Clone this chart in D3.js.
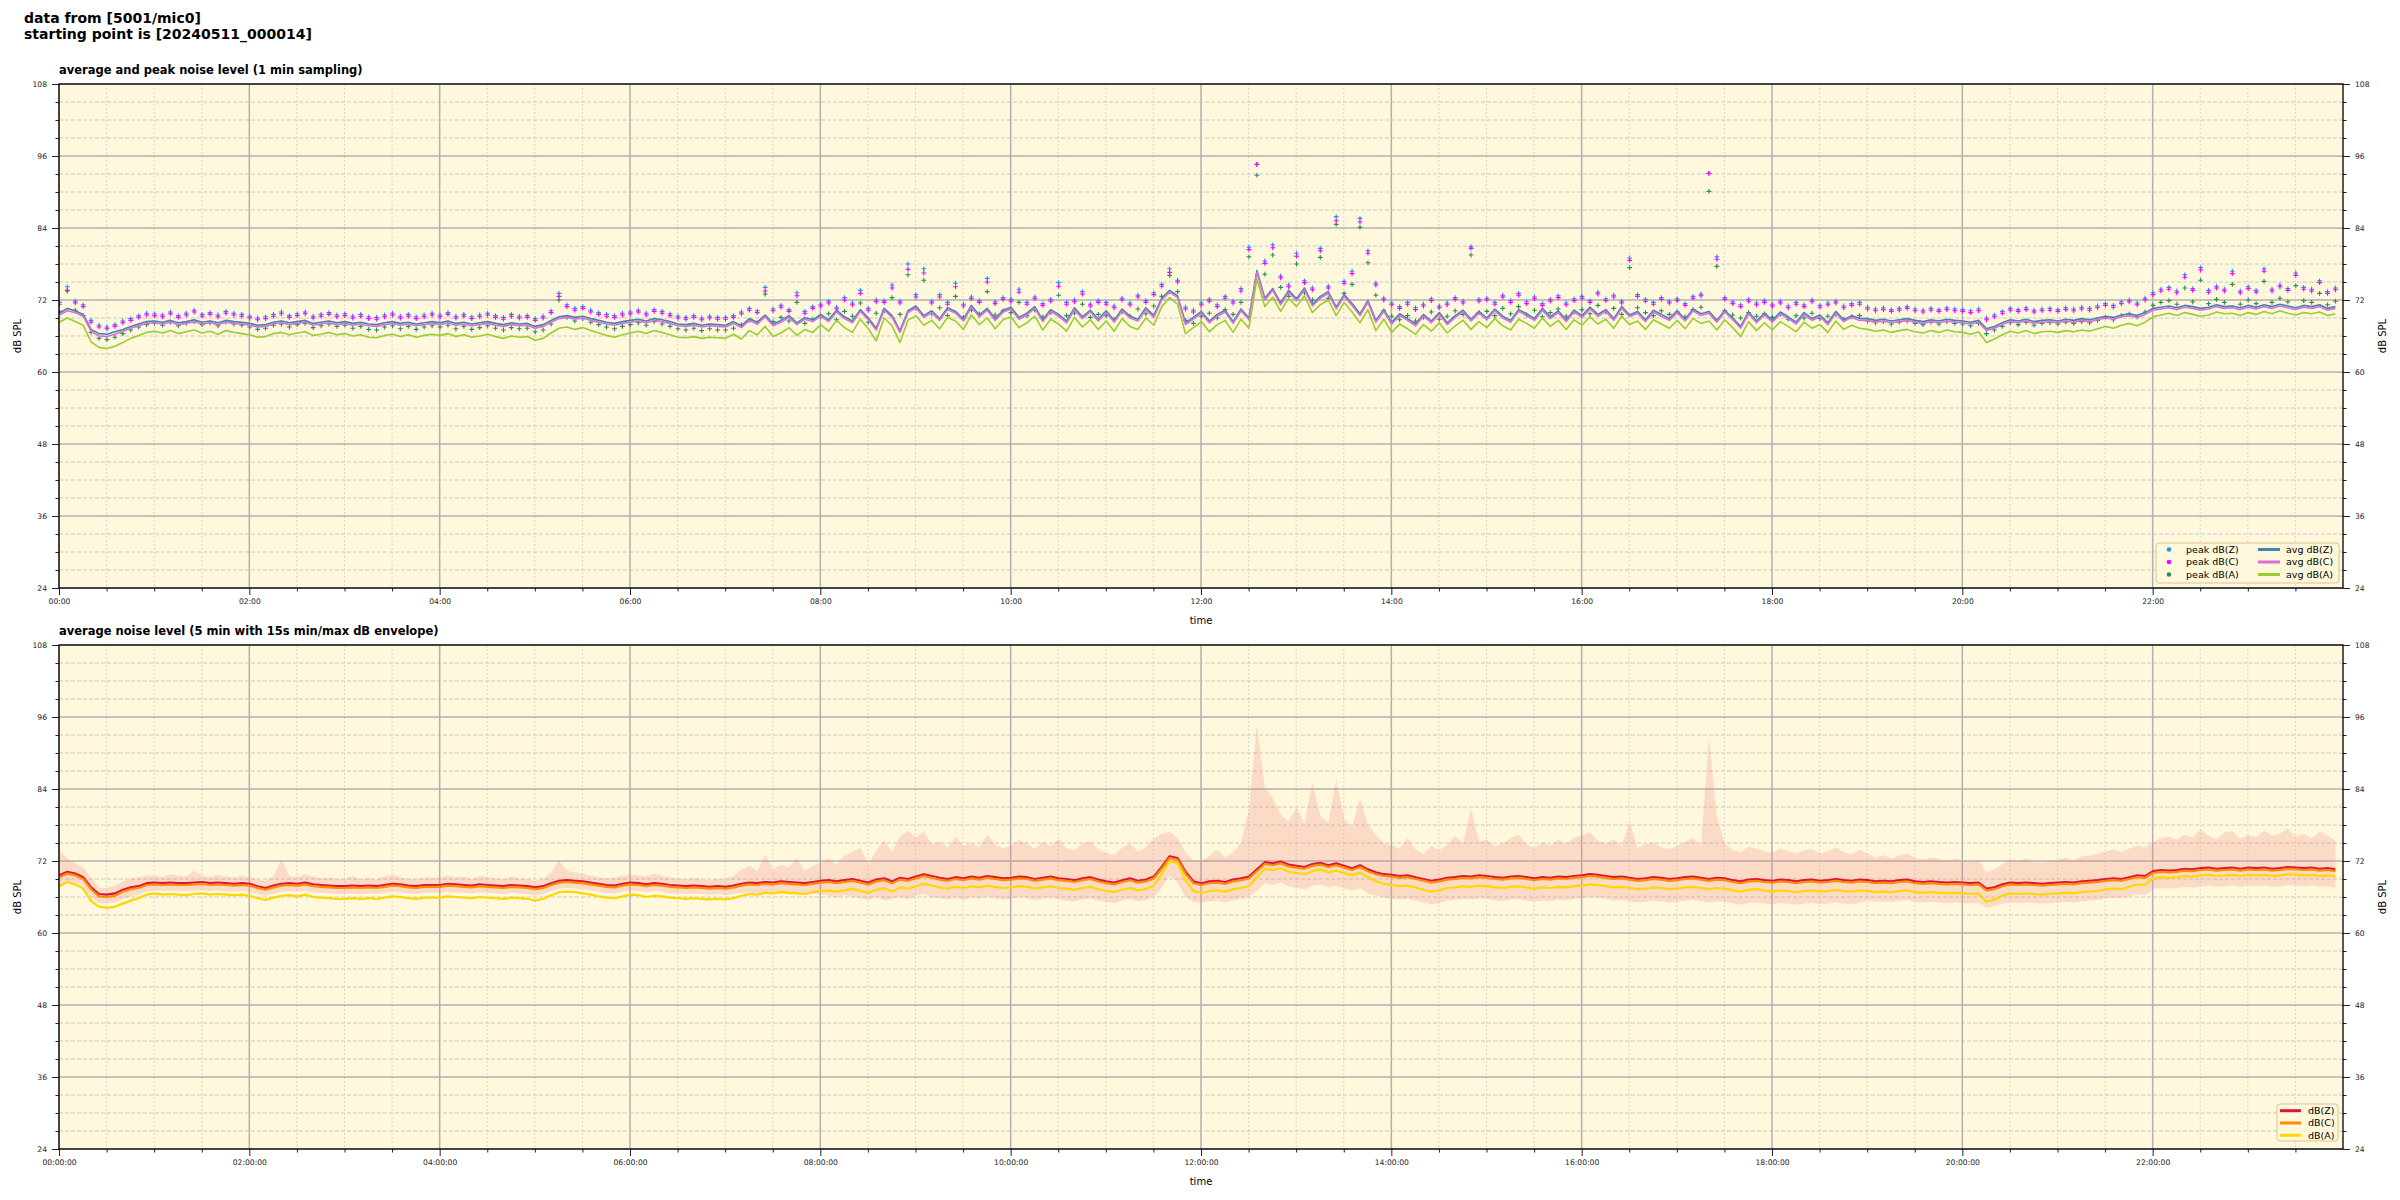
<!DOCTYPE html>
<html><head><meta charset="utf-8">
<script src="https://cdn.jsdelivr.net/npm/d3@7/dist/d3.min.js"></script>
<style>
html,body{margin:0;padding:0;background:#fff;}
svg{display:block;font-family:"DejaVu Sans",sans-serif;}
</style></head>
<body><svg id="chart" width="2400" height="1200"></svg>
<script>
// ---------------- DATA (5-minute buckets, 12 per hour) ----------------
const startTime = new Date(2024, 4, 11, 0, 0, 14);
const stepMinutes = 5;

// top panel: 1-min averages (read at 5-min resolution)
const avgZ = [
69.8,70.6,70.2,69.6,67.1,66.4,66.3,66.7,67.1,67.6,68.0,68.4,
68.5,68.3,68.6,68.2,68.4,68.7,68.3,68.5,68.2,68.6,68.4,68.3,
68.1,67.8,67.9,68.3,68.5,68.2,68.4,68.6,68.1,68.3,68.5,68.2,
68.4,68.1,68.3,68.0,67.9,68.2,68.4,68.1,68.3,68.0,68.2,68.4,
68.2,68.5,68.1,68.3,68.0,68.2,68.4,68.1,67.9,68.2,68.0,68.1,
67.6,67.9,68.6,69.2,69.4,69.1,69.3,68.9,68.6,68.3,68.1,68.4,
68.6,68.8,68.5,68.9,68.7,68.4,68.0,67.9,68.1,67.8,68.0,67.9,
67.8,68.4,67.7,68.9,68.3,69.5,68.0,68.6,69.4,68.2,69.1,68.7,
69.6,68.7,70.3,69.2,68.5,70.4,69.0,67.3,70.6,69.4,66.9,70.2,
71.0,69.4,70.2,68.9,70.7,70.1,68.8,71.1,69.5,70.6,68.9,70.3,
70.8,69.1,69.8,70.9,68.7,70.4,69.6,68.5,70.7,69.2,70.3,68.8,
70.2,68.6,70.5,69.3,68.8,70.7,69.4,72.3,73.6,72.7,68.2,69.1,
70.1,68.5,69.6,70.3,68.4,70.5,69.0,76.9,72.3,73.9,71.5,73.6,
72.2,74.0,71.3,72.6,73.4,70.8,72.9,71.4,69.7,71.9,68.6,70.4,
68.3,69.7,68.9,68.0,69.6,68.5,69.9,68.2,69.4,70.3,68.8,70.1,
69.0,70.5,69.3,68.6,70.4,69.7,68.9,70.6,69.2,70.2,68.7,70.3,
69.4,70.8,69.6,70.4,68.9,70.9,69.5,70.1,68.7,70.3,69.6,68.9,
70.2,68.8,70.5,69.7,70.1,68.6,70.3,69.0,67.6,70.0,68.5,69.8,
68.6,70.0,69.2,68.3,69.9,68.9,69.5,68.2,70.1,68.7,69.4,68.9,
68.9,68.6,68.8,68.5,68.7,68.9,68.6,68.4,68.7,68.5,68.8,68.6,
68.5,68.3,68.6,67.2,67.6,68.2,68.7,68.5,68.8,68.4,68.6,68.7,
68.5,68.8,68.6,68.9,68.7,69.0,69.3,69.1,69.5,69.7,69.4,69.9,
70.6,70.8,71.0,70.7,71.1,70.9,70.6,70.8,71.2,70.9,71.0,70.7,
71.1,70.8,71.2,70.9,71.3,71.0,70.7,71.1,70.9,71.2,70.6,70.9];
const avgC = [
69.5,70.2,69.9,69.3,66.8,66.0,65.9,66.3,66.8,67.3,67.7,68.1,
68.2,68.0,68.3,67.9,68.1,68.4,68.0,68.2,67.9,68.3,68.1,68.0,
67.8,67.5,67.6,68.0,68.2,67.9,68.1,68.3,67.8,68.0,68.2,67.9,
68.1,67.8,68.0,67.7,67.6,67.9,68.1,67.8,68.0,67.7,67.9,68.1,
67.9,68.2,67.8,68.0,67.7,67.9,68.1,67.8,67.6,67.9,67.7,67.8,
67.3,67.6,68.3,68.9,69.1,68.8,69.0,68.6,68.3,68.0,67.8,68.1,
68.3,68.5,68.2,68.6,68.4,68.1,67.7,67.6,67.8,67.5,67.7,67.6,
67.5,68.1,67.4,68.6,68.0,69.2,67.7,68.3,69.1,67.9,68.8,68.4,
69.3,68.4,70.0,68.9,68.2,70.1,68.7,67.0,70.3,69.1,66.6,69.9,
70.7,69.1,69.9,68.6,70.4,69.8,68.5,70.8,69.2,70.3,68.6,70.0,
70.5,68.8,69.5,70.6,68.4,70.1,69.3,68.2,70.4,68.9,70.0,68.5,
69.9,68.3,70.2,69.0,68.5,70.4,69.1,72.0,73.3,72.4,67.9,68.8,
69.8,68.2,69.3,70.0,68.1,70.2,68.7,76.6,72.0,73.6,71.2,73.3,
71.9,73.7,71.0,72.3,73.1,70.5,72.6,71.1,69.4,71.6,68.3,70.1,
68.0,69.4,68.6,67.7,69.3,68.2,69.6,67.9,69.1,70.0,68.5,69.8,
68.7,70.2,69.0,68.3,70.1,69.4,68.6,70.3,68.9,69.9,68.4,70.0,
69.1,70.5,69.3,70.1,68.6,70.6,69.2,69.8,68.4,70.0,69.3,68.6,
69.9,68.5,70.2,69.4,69.8,68.3,70.0,68.7,67.3,69.7,68.2,69.5,
68.3,69.7,68.9,68.0,69.6,68.6,69.2,67.9,69.8,68.4,69.1,68.6,
68.6,68.3,68.5,68.2,68.4,68.6,68.3,68.1,68.4,68.2,68.5,68.3,
68.2,68.0,68.3,66.9,67.3,67.9,68.4,68.2,68.5,68.1,68.3,68.4,
68.2,68.5,68.3,68.6,68.4,68.7,69.0,68.8,69.2,69.4,69.1,69.6,
70.3,70.5,70.7,70.4,70.8,70.6,70.3,70.5,70.9,70.6,70.7,70.4,
70.8,70.5,70.9,70.6,71.0,70.7,70.4,70.8,70.6,70.9,70.3,70.6];
const avgA = [
68.3,69.0,68.4,67.8,65.0,64.1,63.9,64.3,64.9,65.6,66.1,66.6,
66.8,66.5,66.9,66.4,66.7,67.0,66.5,66.8,66.3,66.9,66.6,66.4,
66.2,65.8,65.9,66.4,66.6,66.2,66.5,66.7,66.1,66.3,66.6,66.2,
66.4,66.0,66.2,65.8,65.7,66.1,66.3,65.9,66.2,65.8,66.1,66.3,
66.1,66.4,65.9,66.2,65.8,66.0,66.3,65.9,65.6,66.0,65.8,65.9,
65.3,65.6,66.5,67.3,67.5,67.1,67.4,66.9,66.5,66.1,65.8,66.2,
66.5,66.8,66.4,66.9,66.6,66.2,65.8,65.7,65.9,65.6,65.8,65.7,
65.6,66.3,65.5,66.9,66.2,67.6,65.9,66.5,67.4,66.1,67.1,66.6,
67.9,66.8,68.6,67.4,66.6,68.8,67.2,65.2,69.0,67.7,64.9,68.6,
69.4,67.8,68.6,67.2,69.1,68.5,67.1,69.5,67.9,69.0,67.2,68.7,
69.2,67.4,68.2,69.3,67.0,68.8,68.0,66.8,69.1,67.5,68.7,67.1,
68.5,66.8,68.9,67.6,67.1,69.0,67.8,70.9,72.4,71.3,66.4,67.4,
68.4,66.7,67.9,68.6,66.6,68.8,67.3,75.5,70.9,72.5,70.1,72.3,
70.9,72.7,69.9,71.2,72.0,69.4,71.6,70.0,68.2,70.4,66.9,68.8,
66.6,68.0,67.2,66.3,67.9,66.8,68.2,66.5,67.7,68.6,67.1,68.4,
67.4,68.9,67.7,67.0,68.8,68.1,67.3,69.0,67.6,68.6,67.1,68.7,
67.8,69.2,68.0,68.8,67.3,69.3,67.9,68.5,67.1,68.7,68.0,67.3,
68.6,67.2,68.9,68.1,68.5,67.0,68.7,67.4,65.9,68.4,66.9,68.2,
67.0,68.4,67.6,66.7,68.3,67.3,67.9,66.6,68.5,67.1,67.8,67.3,
67.1,66.8,67.0,66.6,66.9,67.1,66.7,66.5,66.9,66.6,67.0,66.7,
66.6,66.3,66.7,64.9,65.5,66.2,66.8,66.5,66.9,66.4,66.7,66.8,
66.6,66.9,66.7,67.0,66.8,67.2,67.6,67.3,67.8,68.1,67.7,68.3,
69.2,69.5,69.8,69.4,69.9,69.6,69.3,69.5,70.0,69.7,69.8,69.4,
69.9,69.6,70.1,69.7,70.2,69.8,69.5,69.9,69.7,70.0,69.4,69.7];

// top panel: peaks
const peakZ = [
71.6,74.2,71.8,71.2,68.6,67.8,67.5,67.9,68.5,68.9,69.4,69.8,
69.7,69.5,70.0,69.4,69.8,70.3,69.6,69.9,69.5,70.1,69.8,69.6,
69.3,69.0,69.2,69.6,70.0,69.4,69.7,70.0,69.3,69.6,69.9,69.5,
69.7,69.3,69.6,69.2,69.1,69.5,69.8,69.3,69.6,69.2,69.5,69.8,
69.5,69.9,69.3,69.6,69.2,69.5,69.8,69.4,69.1,69.6,69.3,69.4,
68.9,69.3,70.2,73.1,71.2,70.6,70.9,70.3,69.9,69.6,69.4,69.8,
70.0,70.3,69.8,70.4,70.1,69.7,69.3,69.1,69.4,69.0,69.3,69.1,
69.1,69.4,70.0,70.6,70.2,74.1,70.5,71.1,70.4,73.2,70.1,70.9,
71.3,71.8,70.8,72.4,71.5,73.6,70.6,72.0,71.9,74.5,71.8,78.0,
72.9,77.2,71.8,72.9,71.6,74.8,71.3,72.5,71.9,75.6,71.7,72.4,
72.1,73.8,71.6,72.5,71.4,72.1,74.9,71.6,72.0,73.4,71.3,71.9,
71.6,71.0,72.3,71.5,72.8,71.9,73.2,74.6,77.2,75.3,70.8,70.3,
71.5,72.1,71.2,72.6,71.8,73.9,80.8,94.6,78.5,81.2,76.0,74.5,
79.8,75.2,74.0,80.6,74.3,85.9,75.1,76.8,85.6,80.2,74.8,72.3,
71.5,70.9,71.6,70.7,71.3,72.2,71.0,71.5,72.4,71.8,80.9,72.1,
72.3,71.6,72.8,71.9,73.1,71.7,72.5,71.4,72.1,72.7,71.5,72.2,
72.6,71.9,73.3,72.2,72.8,71.8,79.0,72.9,72.1,71.6,72.4,71.8,
72.2,71.4,72.6,73.0,93.1,79.2,72.4,71.7,71.2,72.1,71.5,71.9,
71.3,71.8,71.0,71.6,71.2,72.0,71.1,71.5,71.8,71.0,71.4,71.6,
70.8,70.5,70.7,70.4,70.6,70.9,70.5,70.3,70.6,70.4,70.7,70.5,
70.4,70.2,70.5,69.0,69.5,70.1,70.6,70.4,70.7,70.3,70.5,70.6,
70.4,70.7,70.5,70.8,70.6,71.0,71.4,71.1,71.7,72.0,71.5,72.3,
73.2,73.8,74.1,73.5,76.2,73.9,77.4,73.6,74.3,73.8,76.8,73.5,
74.2,73.6,77.2,73.8,74.5,73.9,76.5,74.1,73.8,75.2,73.4,74.0];
const peakC = [
71.3,73.6,71.5,70.9,68.3,67.5,67.2,67.6,68.2,68.6,69.1,69.5,
69.4,69.2,69.7,69.1,69.5,70.0,69.3,69.6,69.2,69.8,69.5,69.3,
69.0,68.7,68.9,69.3,69.7,69.1,69.4,69.7,69.0,69.3,69.6,69.2,
69.4,69.0,69.3,68.9,68.8,69.2,69.5,69.0,69.3,68.9,69.2,69.5,
69.2,69.6,69.0,69.3,68.9,69.2,69.5,69.1,68.8,69.3,69.0,69.1,
68.6,69.0,69.9,72.6,70.9,70.3,70.6,70.0,69.6,69.3,69.1,69.5,
69.7,70.0,69.5,70.1,69.8,69.4,69.0,68.8,69.1,68.7,69.0,68.8,
68.8,69.1,69.7,70.3,69.9,73.5,70.2,70.8,70.1,72.7,69.8,70.6,
71.0,71.5,70.5,72.0,71.2,73.1,70.3,71.7,71.6,74.0,71.5,77.1,
72.5,76.5,71.5,72.5,71.3,74.2,71.0,72.2,71.6,75.0,71.4,72.1,
71.8,73.3,71.3,72.2,71.1,71.8,74.3,71.3,71.7,73.0,71.0,71.6,
71.3,70.7,72.0,71.2,72.5,71.6,72.9,74.3,76.6,75.0,70.5,70.0,
71.2,71.8,70.9,72.3,71.5,73.5,80.4,94.6,78.1,80.7,75.7,74.2,
79.3,74.9,73.7,80.2,74.0,85.2,74.8,76.4,85.0,79.8,74.5,72.0,
71.2,70.6,71.3,70.4,71.0,71.9,70.7,71.2,72.1,71.5,80.6,71.8,
72.0,71.3,72.5,71.6,72.8,71.4,72.2,71.1,71.8,72.4,71.2,71.9,
72.3,71.6,73.0,71.9,72.5,71.5,78.6,72.6,71.8,71.3,72.1,71.5,
71.9,71.1,72.3,72.7,93.1,78.8,72.1,71.4,70.9,71.8,71.2,71.6,
71.0,71.5,70.7,71.3,70.9,71.7,70.8,71.2,71.5,70.7,71.1,71.3,
70.5,70.2,70.4,70.1,70.3,70.6,70.2,70.0,70.3,70.1,70.4,70.2,
70.1,69.9,70.2,68.7,69.2,69.8,70.3,70.1,70.4,70.0,70.2,70.3,
70.1,70.4,70.2,70.5,70.3,70.7,71.1,70.8,71.4,71.7,71.2,72.0,
72.9,73.5,73.8,73.2,75.8,73.6,77.0,73.3,74.0,73.5,76.4,73.2,
73.9,73.3,76.8,73.5,74.2,73.6,76.1,73.8,73.5,74.9,73.1,73.7];
const peakA = [
70.1,73.5,70.3,69.4,66.6,65.6,65.4,65.8,66.4,67.0,67.5,67.9,
68.1,67.8,68.3,67.7,68.1,68.4,67.9,68.2,67.7,68.3,68.0,67.8,
67.5,67.1,67.3,67.8,68.0,67.5,67.9,68.1,67.4,67.7,68.0,67.6,
67.8,67.3,67.6,67.1,67.0,67.5,67.7,67.2,67.6,67.1,67.5,67.7,
67.5,67.8,67.2,67.6,67.1,67.4,67.7,67.3,67.0,67.4,67.2,67.3,
66.7,67.0,68.0,72.0,69.1,68.5,68.9,68.3,67.9,67.5,67.2,67.6,
67.9,68.2,67.8,68.4,68.0,67.6,67.2,67.0,67.3,66.9,67.2,67.0,
67.0,67.3,67.9,68.6,68.2,73.0,68.4,69.1,68.5,71.6,68.1,68.8,
69.2,69.7,68.7,70.1,69.3,71.5,68.3,69.8,70.2,72.4,69.6,76.2,
70.6,75.3,69.7,70.7,69.4,72.6,69.1,70.3,69.7,73.4,69.5,70.2,
69.9,71.6,69.4,70.3,69.2,69.9,72.8,69.4,69.8,71.3,69.1,69.6,
69.4,68.8,70.0,69.3,70.5,69.7,71.0,72.6,76.1,73.4,68.6,68.1,
69.3,69.8,69.0,70.4,69.6,71.6,79.2,92.8,76.3,79.5,74.1,72.6,
78.0,73.2,72.0,79.1,72.3,84.6,73.1,74.6,84.1,78.2,72.8,70.2,
69.3,68.7,69.4,68.5,69.1,70.0,68.8,69.3,70.2,69.6,79.5,69.9,
70.1,69.4,70.6,69.7,70.9,69.5,70.3,69.2,69.9,70.5,69.3,70.0,
70.4,69.7,71.1,70.0,70.6,69.6,77.4,70.7,69.9,69.4,70.2,69.6,
70.0,69.2,70.4,70.8,90.1,77.6,70.2,69.5,69.0,69.9,69.3,69.7,
69.1,69.6,68.8,69.4,69.0,69.8,68.9,69.3,69.6,68.8,69.2,69.4,
68.5,68.2,68.4,68.0,68.3,68.5,68.1,67.9,68.3,68.0,68.4,68.1,
68.0,67.7,68.1,66.4,67.0,67.6,68.2,67.9,68.3,67.8,68.1,68.2,
68.0,68.3,68.1,68.4,68.2,68.6,69.1,68.7,69.4,69.7,69.2,70.0,
71.1,71.6,71.9,71.3,74.0,71.7,75.3,71.4,72.1,71.6,74.6,71.3,
72.0,71.4,75.1,71.6,72.3,71.7,74.4,71.9,71.6,73.1,71.2,71.8];

// bottom panel: 5-min averages
const lvlZ = [
69.6,70.2,69.9,69.3,67.6,66.5,66.4,66.6,67.2,67.6,67.8,68.3,
68.4,68.3,68.4,68.3,68.3,68.4,68.5,68.3,68.4,68.3,68.2,68.3,
68.2,67.8,67.5,67.9,68.2,68.3,68.2,68.4,68.1,68.0,67.9,67.8,
67.8,67.9,67.8,67.9,67.8,68.0,68.2,68.1,67.9,67.8,68.0,68.0,
68.0,68.2,68.1,68.0,67.9,68.1,68.0,67.9,67.8,68.0,67.9,67.8,
67.6,67.8,68.3,68.7,68.8,68.7,68.6,68.4,68.2,68.0,67.9,68.2,
68.4,68.3,68.1,68.3,68.2,68.0,67.9,67.8,67.9,67.8,67.7,67.8,
67.7,67.9,68.2,68.4,68.3,68.5,68.4,68.6,68.5,68.4,68.3,68.5,
68.7,68.8,68.6,68.8,69.0,68.7,68.4,68.9,69.1,68.6,69.2,69.0,
69.4,69.8,69.5,69.2,69.0,69.3,69.1,69.4,69.2,69.5,69.3,69.1,
69.2,69.4,69.3,69.0,69.2,69.4,69.1,69.0,68.8,69.1,69.3,68.9,
68.6,68.4,68.8,69.1,68.7,68.9,69.4,71.0,72.8,72.5,70.2,68.6,
68.3,68.6,68.7,68.5,68.9,69.1,69.4,70.6,71.8,71.6,71.9,71.4,
71.2,71.0,71.5,71.7,71.3,71.6,71.2,70.8,71.3,70.6,70.1,69.8,
69.7,69.5,69.6,69.3,69.0,68.7,68.9,69.2,69.3,69.5,69.4,69.6,
69.5,69.3,69.2,69.4,69.5,69.3,69.1,69.3,69.2,69.4,69.3,69.5,
69.6,69.8,69.7,69.5,69.3,69.4,69.2,69.0,69.1,69.3,69.2,69.0,
69.1,69.3,69.4,69.2,69.0,69.2,69.1,68.8,68.6,68.9,69.0,68.8,
68.7,68.9,68.8,68.6,68.8,68.9,68.7,68.8,69.0,68.8,68.7,68.9,
68.8,68.6,68.7,68.6,68.8,68.9,68.6,68.5,68.6,68.5,68.4,68.5,
68.4,68.3,68.4,67.4,67.6,68.1,68.4,68.3,68.4,68.3,68.2,68.3,
68.4,68.5,68.4,68.6,68.7,68.8,69.0,69.1,69.0,69.3,69.6,69.5,
70.3,70.5,70.4,70.5,70.7,70.6,70.8,70.9,70.7,70.8,70.9,70.7,
70.9,70.8,70.9,70.7,70.8,71.0,70.9,70.8,70.9,70.7,70.8,70.6];
const lvlC = [
69.3,69.9,69.6,69.0,67.3,66.1,66.0,66.2,66.9,67.3,67.5,68.0,
68.1,68.0,68.1,68.0,68.0,68.1,68.2,68.0,68.1,68.0,67.9,68.0,
67.9,67.5,67.2,67.6,67.9,68.0,67.9,68.1,67.8,67.7,67.6,67.5,
67.5,67.6,67.5,67.6,67.5,67.7,67.9,67.8,67.6,67.5,67.7,67.7,
67.7,67.9,67.8,67.7,67.6,67.8,67.7,67.6,67.5,67.7,67.6,67.5,
67.3,67.5,68.0,68.4,68.5,68.4,68.3,68.1,67.9,67.7,67.6,67.9,
68.1,68.0,67.8,68.0,67.9,67.7,67.6,67.5,67.6,67.5,67.4,67.5,
67.4,67.6,67.9,68.1,68.0,68.2,68.1,68.3,68.2,68.1,68.0,68.2,
68.4,68.5,68.3,68.5,68.7,68.4,68.1,68.6,68.8,68.3,68.9,68.7,
69.1,69.5,69.2,68.9,68.7,69.0,68.8,69.1,68.9,69.2,69.0,68.8,
68.9,69.1,69.0,68.7,68.9,69.1,68.8,68.7,68.5,68.8,69.0,68.6,
68.3,68.1,68.5,68.8,68.4,68.6,69.1,70.7,72.5,72.2,69.9,68.3,
68.0,68.3,68.4,68.2,68.6,68.8,69.1,70.3,71.5,71.3,71.6,71.1,
70.9,70.7,71.2,71.4,71.0,71.3,70.9,70.5,71.0,70.3,69.8,69.5,
69.4,69.2,69.3,69.0,68.7,68.4,68.6,68.9,69.0,69.2,69.1,69.3,
69.2,69.0,68.9,69.1,69.2,69.0,68.8,69.0,68.9,69.1,69.0,69.2,
69.3,69.5,69.4,69.2,69.0,69.1,68.9,68.7,68.8,69.0,68.9,68.7,
68.8,69.0,69.1,68.9,68.7,68.9,68.8,68.5,68.3,68.6,68.7,68.5,
68.4,68.6,68.5,68.3,68.5,68.6,68.4,68.5,68.7,68.5,68.4,68.6,
68.5,68.3,68.4,68.3,68.5,68.6,68.3,68.2,68.3,68.2,68.1,68.2,
68.1,68.0,68.1,67.1,67.3,67.8,68.1,68.0,68.1,68.0,67.9,68.0,
68.1,68.2,68.1,68.3,68.4,68.5,68.7,68.8,68.7,69.0,69.3,69.2,
70.0,70.2,70.1,70.2,70.4,70.3,70.5,70.6,70.4,70.5,70.6,70.4,
70.6,70.5,70.6,70.4,70.5,70.7,70.6,70.5,70.6,70.4,70.5,70.3];
const lvlA = [
67.8,68.5,68.1,67.4,65.3,64.4,64.2,64.4,64.9,65.4,65.8,66.4,
66.6,66.4,66.5,66.4,66.3,66.5,66.6,66.4,66.5,66.4,66.3,66.4,
66.2,65.8,65.5,65.9,66.2,66.3,66.1,66.4,66.0,65.9,65.8,65.7,
65.7,65.8,65.7,65.8,65.7,65.9,66.1,66.0,65.8,65.7,65.9,65.9,
65.9,66.1,66.0,65.9,65.8,66.0,65.9,65.8,65.7,65.9,65.8,65.7,
65.4,65.7,66.3,66.8,66.9,66.8,66.6,66.4,66.1,65.9,65.8,66.1,
66.4,66.3,66.0,66.2,66.1,65.9,65.8,65.7,65.8,65.7,65.6,65.7,
65.6,65.8,66.2,66.5,66.4,66.7,66.6,66.8,66.7,66.6,66.5,66.8,
67.0,67.1,66.9,67.1,67.4,67.0,66.7,67.2,67.5,66.9,67.6,67.4,
67.8,68.2,67.9,67.6,67.4,67.7,67.5,67.8,67.6,67.9,67.7,67.5,
67.6,67.8,67.7,67.4,67.6,67.8,67.5,67.4,67.2,67.5,67.7,67.3,
67.0,66.8,67.2,67.5,67.1,67.3,67.9,69.8,72.0,71.6,68.8,67.0,
66.7,67.0,67.1,66.9,67.3,67.5,67.8,69.3,70.7,70.5,70.8,70.2,
70.0,69.8,70.3,70.6,70.1,70.4,70.0,69.6,70.1,69.3,68.6,68.2,
68.0,67.8,67.9,67.6,67.2,66.9,67.1,67.5,67.6,67.8,67.7,67.9,
67.8,67.6,67.5,67.7,67.8,67.6,67.4,67.6,67.5,67.7,67.6,67.8,
67.9,68.1,68.0,67.8,67.6,67.7,67.5,67.3,67.4,67.6,67.5,67.3,
67.4,67.6,67.7,67.5,67.3,67.5,67.4,67.1,66.9,67.2,67.3,67.1,
66.9,67.1,67.0,66.8,67.0,67.1,66.9,67.0,67.2,67.0,66.9,67.1,
67.0,66.8,66.9,66.8,67.0,67.1,66.8,66.7,66.8,66.7,66.6,66.7,
66.6,66.5,66.6,65.2,65.6,66.2,66.6,66.5,66.6,66.5,66.4,66.5,
66.6,66.7,66.6,66.8,66.9,67.0,67.3,67.4,67.3,67.7,68.1,68.0,
69.1,69.3,69.2,69.3,69.5,69.4,69.6,69.7,69.5,69.6,69.7,69.5,
69.7,69.6,69.7,69.5,69.6,69.8,69.7,69.6,69.7,69.5,69.6,69.4];
// bottom panel: 15 s min / max envelope (per 5-min bucket)
const envMax = [
73.8,72.4,71.6,70.9,69.2,67.6,67.5,67.9,68.6,69.1,69.3,69.6,
69.6,69.3,69.8,69.5,69.4,70.4,69.6,69.3,69.7,69.4,69.2,69.5,
69.3,68.9,68.7,69.4,72.3,69.5,69.3,69.8,69.4,69.1,69.2,69.0,
69.0,69.5,68.9,69.2,68.9,69.4,69.7,69.3,69.0,68.9,69.3,69.2,
69.3,69.6,69.2,69.4,69.0,69.5,69.3,69.1,68.9,69.4,69.1,69.0,
68.7,69.1,70.0,72.1,70.4,70.1,69.9,69.6,69.3,69.1,69.2,69.5,
69.8,69.6,69.4,69.9,69.5,69.2,69.1,68.9,69.2,68.9,68.8,69.0,
69.0,69.5,70.6,71.2,70.3,73.1,70.6,71.4,70.9,72.5,70.4,71.2,
71.6,72.4,71.4,72.9,73.5,74.2,71.5,73.7,75.4,73.5,76.1,77.0,
75.9,77.0,74.8,75.3,74.2,76.1,74.5,75.0,74.3,76.4,74.8,74.1,
74.6,75.5,74.9,74.0,75.2,74.4,75.7,74.1,73.8,74.9,75.3,73.9,
73.4,73.0,74.2,74.9,73.6,74.3,75.8,76.5,76.9,75.8,73.4,72.1,
72.0,72.8,73.9,72.6,73.4,75.1,80.6,94.7,84.2,82.5,79.8,78.6,
80.9,78.2,85.2,79.5,78.4,85.6,79.0,77.6,82.4,78.1,76.3,75.0,
74.6,74.1,75.8,73.9,73.2,74.5,73.8,74.7,76.2,74.9,80.8,75.3,
75.6,74.4,74.9,75.8,76.4,74.7,74.2,75.1,74.6,75.5,74.8,75.9,
76.3,76.8,75.4,74.9,75.6,74.5,78.6,74.2,74.8,75.1,74.3,74.0,
74.5,75.2,75.8,74.6,92.6,79.4,74.9,73.8,73.5,74.4,74.1,73.6,
73.4,74.1,73.7,73.2,73.8,74.0,73.3,73.6,74.2,73.5,73.1,73.9,
73.2,72.6,73.0,72.4,72.9,73.3,72.5,72.2,72.6,72.3,72.0,72.4,
72.1,71.8,72.2,70.1,70.6,71.5,72.3,71.9,72.4,71.8,71.7,72.0,
72.2,72.5,72.1,72.8,72.9,73.2,73.6,73.9,73.5,74.1,74.6,74.3,
75.2,75.8,76.1,75.5,76.4,75.9,77.3,76.2,75.6,76.8,77.0,75.7,
76.4,75.9,77.1,76.2,76.6,77.4,76.0,76.5,75.8,76.9,76.2,75.5];
const envMin = [
68.0,68.7,68.4,67.8,66.0,65.0,64.9,65.1,65.7,66.1,66.4,66.9,
67.1,67.0,67.1,67.0,67.0,67.1,67.2,67.0,67.1,67.0,66.9,67.0,
66.9,66.5,66.2,66.6,66.9,67.0,66.9,67.1,66.8,66.7,66.6,66.5,
66.5,66.6,66.5,66.6,66.5,66.7,66.9,66.8,66.6,66.5,66.7,66.7,
66.7,66.9,66.8,66.7,66.6,66.8,66.7,66.6,66.5,66.7,66.6,66.5,
66.3,66.5,67.0,67.4,67.5,67.4,67.3,67.1,66.9,66.7,66.6,66.9,
67.1,67.0,66.8,67.0,66.9,66.7,66.6,66.5,66.6,66.5,66.4,66.5,
66.3,66.5,66.7,66.8,66.6,66.8,66.5,66.7,66.4,66.6,66.3,66.5,
66.4,66.2,65.9,66.3,66.0,65.8,65.5,66.1,65.4,65.7,66.0,65.6,
66.2,66.5,66.0,65.8,65.6,65.9,65.5,66.0,65.7,66.1,65.8,65.6,
65.7,66.0,65.8,65.5,65.7,65.9,65.6,65.4,65.3,65.6,65.8,65.4,
65.2,65.0,65.4,65.7,65.3,65.5,66.0,67.5,69.6,68.4,66.0,65.2,
65.0,65.3,65.4,65.1,65.5,65.7,66.0,67.1,68.3,68.0,68.4,67.8,
67.5,67.3,67.9,68.1,67.6,67.9,67.4,67.0,67.5,66.6,66.2,65.9,
65.8,65.6,65.7,65.4,65.1,64.8,65.0,65.4,65.5,65.7,65.6,65.8,
65.7,65.4,65.3,65.6,65.7,65.4,65.2,65.4,65.3,65.6,65.4,65.7,
65.8,66.0,65.9,65.7,65.4,65.5,65.3,65.1,65.2,65.4,65.3,65.1,
65.2,65.4,65.5,65.3,65.1,65.3,65.2,64.9,64.7,65.0,65.1,64.9,
64.8,65.0,64.9,64.7,64.9,65.0,64.8,64.9,65.1,64.9,64.8,65.0,
65.4,65.2,65.3,65.2,65.4,65.5,65.2,65.1,65.2,65.1,65.0,65.1,
65.0,64.9,65.0,64.2,64.5,64.9,65.1,65.0,65.1,65.0,64.9,65.0,
65.1,65.2,65.1,65.3,65.4,65.5,65.8,65.9,65.8,66.1,66.4,66.3,
67.3,67.5,67.4,67.5,67.7,67.6,67.8,67.9,67.7,67.8,67.9,67.7,
67.9,67.8,67.9,67.7,67.8,68.0,67.9,67.8,67.9,67.7,67.8,67.6];

// axis ticks
const yMajorTicks = [24, 36, 48, 60, 72, 84, 96, 108];
const yMinorTicks = [27,30,33,39,42,45,51,54,57,63,66,69,75,78,81,87,90,93,99,102,105];
const xMajorHours = [0, 2, 4, 6, 8, 10, 12, 14, 16, 18, 20, 22];
const xMinorHalfHours = d3.range(0, 48).filter(h => h % 4 !== 0).map(h => h / 2);

// labels
const figTitle = ["data from [5001/mic0]", "starting point is [20240511_000014]"];
const topTitle = "average and peak noise level (1 min sampling)";
const botTitle = "average noise level (5 min with 15s min/max dB envelope)";
const topLegendPeaks = ["peak dB(Z)", "peak dB(C)", "peak dB(A)"];
const topLegendAvg = ["avg dB(Z)", "avg dB(C)", "avg dB(A)"];
const botLegend = ["dB(Z)", "dB(C)", "dB(A)"];

// ---------------- DRAWING ----------------
const svg = d3.select("#chart");
const L = 59, R = 2343;
const day0 = new Date(2024, 4, 11, 0, 0, 0), day1 = new Date(2024, 4, 12, 0, 0, 0);
const x = d3.scaleTime().domain([day0, day1]).range([L, R]);
const times = avgZ.map((_, i) => new Date(startTime.getTime() + i * stepMinutes * 60000));
const hourDate = h => new Date(day0.getTime() + h * 3600000);
const BG = "#fff8dc";

svg.append("text").attr("x", 24).attr("y", 23).attr("font-size", 14).attr("font-weight", "bold").text(figTitle[0]);
svg.append("text").attr("x", 24).attr("y", 39).attr("font-size", 14).attr("font-weight", "bold").text(figTitle[1]);

function panel(top, bottom, title, fmt, id) {
  const y = d3.scaleLinear().domain([24, 108]).range([bottom, top]);
  const g = svg.append("g");
  g.append("rect").attr("x", L).attr("y", top).attr("width", R - L).attr("height", bottom - top).attr("fill", BG);
  g.append("g").selectAll("line").data(yMinorTicks).join("line")
    .attr("x1", L).attr("x2", R).attr("y1", d => y(d)).attr("y2", d => y(d))
    .attr("stroke", "#bdbdbd").attr("stroke-width", 0.8).attr("stroke-dasharray", "4,2");
  g.append("g").selectAll("line").data(xMinorHalfHours).join("line")
    .attr("x1", d => x(hourDate(d))).attr("x2", d => x(hourDate(d))).attr("y1", top).attr("y2", bottom)
    .attr("stroke", "#cfcfcf").attr("stroke-width", 0.8).attr("stroke-dasharray", "2,2");
  g.append("g").selectAll("line").data(yMajorTicks).join("line")
    .attr("x1", L).attr("x2", R).attr("y1", d => y(d)).attr("y2", d => y(d))
    .attr("stroke", "#b0b0b0").attr("stroke-width", 1.5);
  g.append("g").selectAll("line").data(xMajorHours).join("line")
    .attr("x1", d => x(hourDate(d))).attr("x2", d => x(hourDate(d))).attr("y1", top).attr("y2", bottom)
    .attr("stroke", "#b0b0b0").attr("stroke-width", 1.5);
  svg.append("clipPath").attr("id", id).append("rect").attr("x", L).attr("y", top).attr("width", R - L).attr("height", bottom - top);
  const plot = svg.append("g").attr("clip-path", `url(#${id})`);
  const styleAxis = sel => {
    sel.select(".domain").remove();
    sel.selectAll("text").attr("font-size", 7.6).attr("fill", "#222").attr("font-family", "DejaVu Sans");
    sel.selectAll("line").attr("stroke", "#222");
  };
  svg.append("g").attr("transform", `translate(0,${bottom})`)
    .call(d3.axisBottom(x).tickValues(xMajorHours.map(hourDate)).tickFormat(d3.timeFormat(fmt)).tickSize(7).tickPadding(4)).call(styleAxis);
  svg.append("g").attr("transform", `translate(0,${bottom})`)
    .call(d3.axisBottom(x).tickValues(xMinorHalfHours.map(hourDate)).tickFormat("").tickSize(3.5)).call(styleAxis);
  svg.append("g").attr("transform", `translate(${L},0)`)
    .call(d3.axisLeft(y).tickValues(yMajorTicks).tickSize(7).tickPadding(5)).call(styleAxis);
  svg.append("g").attr("transform", `translate(${L},0)`)
    .call(d3.axisLeft(y).tickValues(yMinorTicks).tickFormat("").tickSize(3.5)).call(styleAxis);
  svg.append("g").attr("transform", `translate(${R},0)`)
    .call(d3.axisRight(y).tickValues(yMajorTicks).tickSize(7).tickPadding(5)).call(styleAxis);
  svg.append("g").attr("transform", `translate(${R},0)`)
    .call(d3.axisRight(y).tickValues(yMinorTicks).tickFormat("").tickSize(3.5)).call(styleAxis);
  svg.append("text").attr("x", L).attr("y", top - 10).attr("font-size", 11.5).attr("font-weight", "bold").text(title);
  svg.append("text").attr("x", (L + R) / 2).attr("y", bottom + 36).attr("text-anchor", "middle").attr("font-size", 10).text("time");
  const mid = (top + bottom) / 2;
  svg.append("text").attr("transform", `translate(21,${mid}) rotate(-90)`).attr("text-anchor", "middle").attr("font-size", 10).text("dB SPL");
  svg.append("text").attr("transform", `translate(2386,${mid}) rotate(-90)`).attr("text-anchor", "middle").attr("font-size", 10).text("dB SPL");
  return {y, plot, top, bottom};
}

// ---- top panel ----
const P1 = panel(84, 588, topTitle, "%H:%M", "clipTop");
const peakSeries = [[peakZ, "#1e90ff"], [peakC, "#ff00ff"], [peakA, "#2e8b57"]];
peakSeries.forEach(([vals, col]) => {
  const s = 2.4;
  P1.plot.append("path")
    .attr("d", vals.map((v, i) => {
      const px = x(times[i]), py = P1.y(v);
      return `M${px - s},${py}H${px + s}M${px},${py - s}V${py + s}`;
    }).join(""))
    .attr("stroke", col).attr("stroke-width", 1.1).attr("fill", "none");
});
const avgSeries = [[avgZ, "#4682b4"], [avgC, "#da70d6"], [avgA, "#9acd32"]];
avgSeries.forEach(([vals, col]) => {
  P1.plot.append("path").datum(vals)
    .attr("d", d3.line().x((d, i) => x(times[i])).y(d => P1.y(d)))
    .attr("fill", "none").attr("stroke", col).attr("stroke-width", 1.6).attr("stroke-linejoin", "round");
});
svg.append("rect").attr("x", L).attr("y", 84).attr("width", R - L).attr("height", 504).attr("fill", "none").attr("stroke", "#000").attr("stroke-width", 1.3);

{
  const lg = svg.append("g");
  lg.append("rect").attr("x", 2156).attr("y", 543).attr("width", 183).attr("height", 40).attr("rx", 3)
    .attr("fill", BG).attr("fill-opacity", 0.85).attr("stroke", "#e2c28e").attr("stroke-width", 1);
  const rows = [549.5, 562, 574.5];
  const pc = ["#1e90ff", "#ff00ff", "#2e8b57"], lc = ["#4682b4", "#da70d6", "#9acd32"];
  rows.forEach((ry, k) => {
    lg.append("circle").attr("cx", 2169).attr("cy", ry).attr("r", 2.3).attr("fill", pc[k]);
    lg.append("text").attr("x", 2186).attr("y", ry + 3.4).attr("font-size", 9.5).text(topLegendPeaks[k]);
    lg.append("line").attr("x1", 2258).attr("x2", 2280).attr("y1", ry).attr("y2", ry).attr("stroke", lc[k]).attr("stroke-width", 3);
    lg.append("text").attr("x", 2286).attr("y", ry + 3.4).attr("font-size", 9.5).text(topLegendAvg[k]);
  });
}

// ---- bottom panel ----
const P2 = panel(645, 1149, botTitle, "%H:%M:%S", "clipBot");
P2.plot.append("path").datum(envMax)
  .attr("d", d3.area().x((d, i) => x(times[i])).y0((d, i) => P2.y(envMin[i])).y1(d => P2.y(d)))
  .attr("fill", "#f08080").attr("fill-opacity", 0.24);
const lvlSeries = [[lvlZ, "#dc143c"], [lvlC, "#ff8c00"], [lvlA, "#ffd700"]];
lvlSeries.forEach(([vals, col]) => {
  P2.plot.append("path").datum(vals)
    .attr("d", d3.line().x((d, i) => x(times[i])).y(d => P2.y(d)))
    .attr("fill", "none").attr("stroke", col).attr("stroke-width", 2.2).attr("stroke-linejoin", "round");
});
svg.append("rect").attr("x", L).attr("y", 645).attr("width", R - L).attr("height", 504).attr("fill", "none").attr("stroke", "#000").attr("stroke-width", 1.3);

{
  const lg = svg.append("g");
  lg.append("rect").attr("x", 2277).attr("y", 1104).attr("width", 61).attr("height", 37).attr("rx", 3)
    .attr("fill", BG).attr("fill-opacity", 0.85).attr("stroke", "#e2c28e").attr("stroke-width", 1);
  const rows = [1110.7, 1123, 1135.3];
  const lc = ["#dc143c", "#ff8c00", "#ffd700"];
  rows.forEach((ry, k) => {
    lg.append("line").attr("x1", 2280).attr("x2", 2301).attr("y1", ry).attr("y2", ry).attr("stroke", lc[k]).attr("stroke-width", 3);
    lg.append("text").attr("x", 2308).attr("y", ry + 3.4).attr("font-size", 9.5).text(botLegend[k]);
  });
}
</script>
</body></html>
